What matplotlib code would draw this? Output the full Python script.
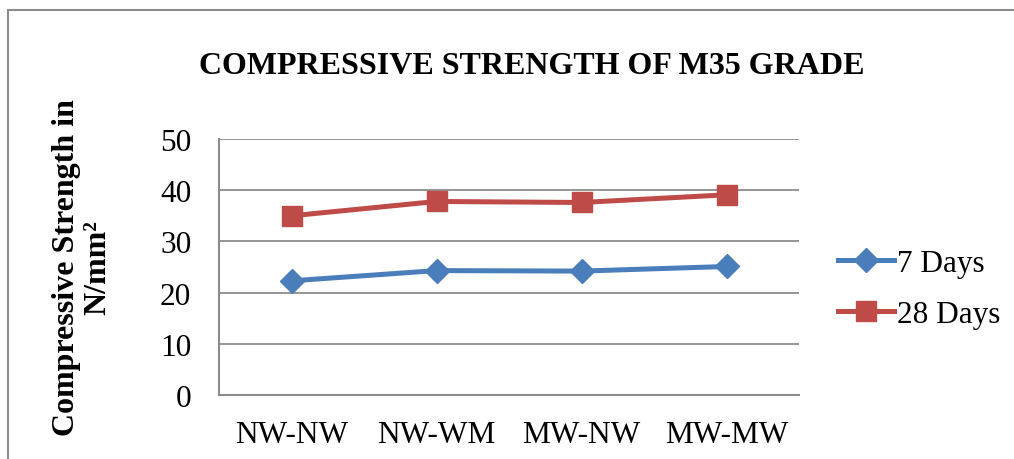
import matplotlib.pyplot as plt
from matplotlib.patches import Rectangle

plt.rcParams['font.family'] = ['Liberation Serif', 'DejaVu Serif']

mixes = ['NW-NW', 'NW-WM', 'MW-NW', 'MW-MW']
days_7 = [22.3, 24.3, 24.2, 25.1]
days_28 = [35.0, 37.8, 37.6, 39.1]

fig = plt.figure(figsize=(10.14, 4.6), dpi=100)
ax = fig.add_axes([219 / 1014, 1 - 396 / 460, 580 / 1014, 256 / 460])

x = range(len(mixes))
ax.plot(x, days_7, color='#4A7EBB', lw=3.6, marker='D', markersize=12,
        label='7 Days')
ax.plot(x, days_28, color='#BE4B48', lw=3.6, marker='s', markersize=14,
        label='28 Days')

ax.set_xlim(-0.5, 3.5)
ax.set_ylim(0, 50)
ax.set_yticks(range(0, 51, 10))
ax.set_xticks(list(x))
ax.set_xticklabels(mixes)
ax.tick_params(length=0, labelsize=22.5)
ax.tick_params(axis='x', pad=18)
ax.tick_params(axis='y', pad=20)
ax.grid(axis='y', color='#8c8c8c', lw=1.3)
ax.set_axisbelow(True)
for side in ['top', 'right']:
    ax.spines[side].set_visible(False)
for side in ['left', 'bottom']:
    ax.spines[side].set_color('#8c8c8c')
    ax.spines[side].set_linewidth(1.5)

ax.set_ylabel('Compressive Strength in\nN/mm²', fontsize=23,
              fontweight='bold', linespacing=1.15)
ax.yaxis.set_label_coords(-0.183, 0.5)

fig.text(532 / 1014, 1 - 67 / 460, 'COMPRESSIVE STRENGTH OF M35 GRADE',
         ha='center', va='center', fontsize=23, fontweight='bold')

ax.legend(loc='center left', bbox_to_anchor=(1.067, 0.414), frameon=False,
          fontsize=22.5, handlelength=1.8, handletextpad=0.1,
          labelspacing=0.7, borderpad=0, borderaxespad=0)

# chart border
fig.patches.append(Rectangle((8 / 1014, -0.1), 1.1, 1 - 11 / 460 + 0.1,
                             transform=fig.transFigure, fill=False,
                             edgecolor='#8c8c8c', lw=1.5))

fig.savefig('out.png', dpi=100)
